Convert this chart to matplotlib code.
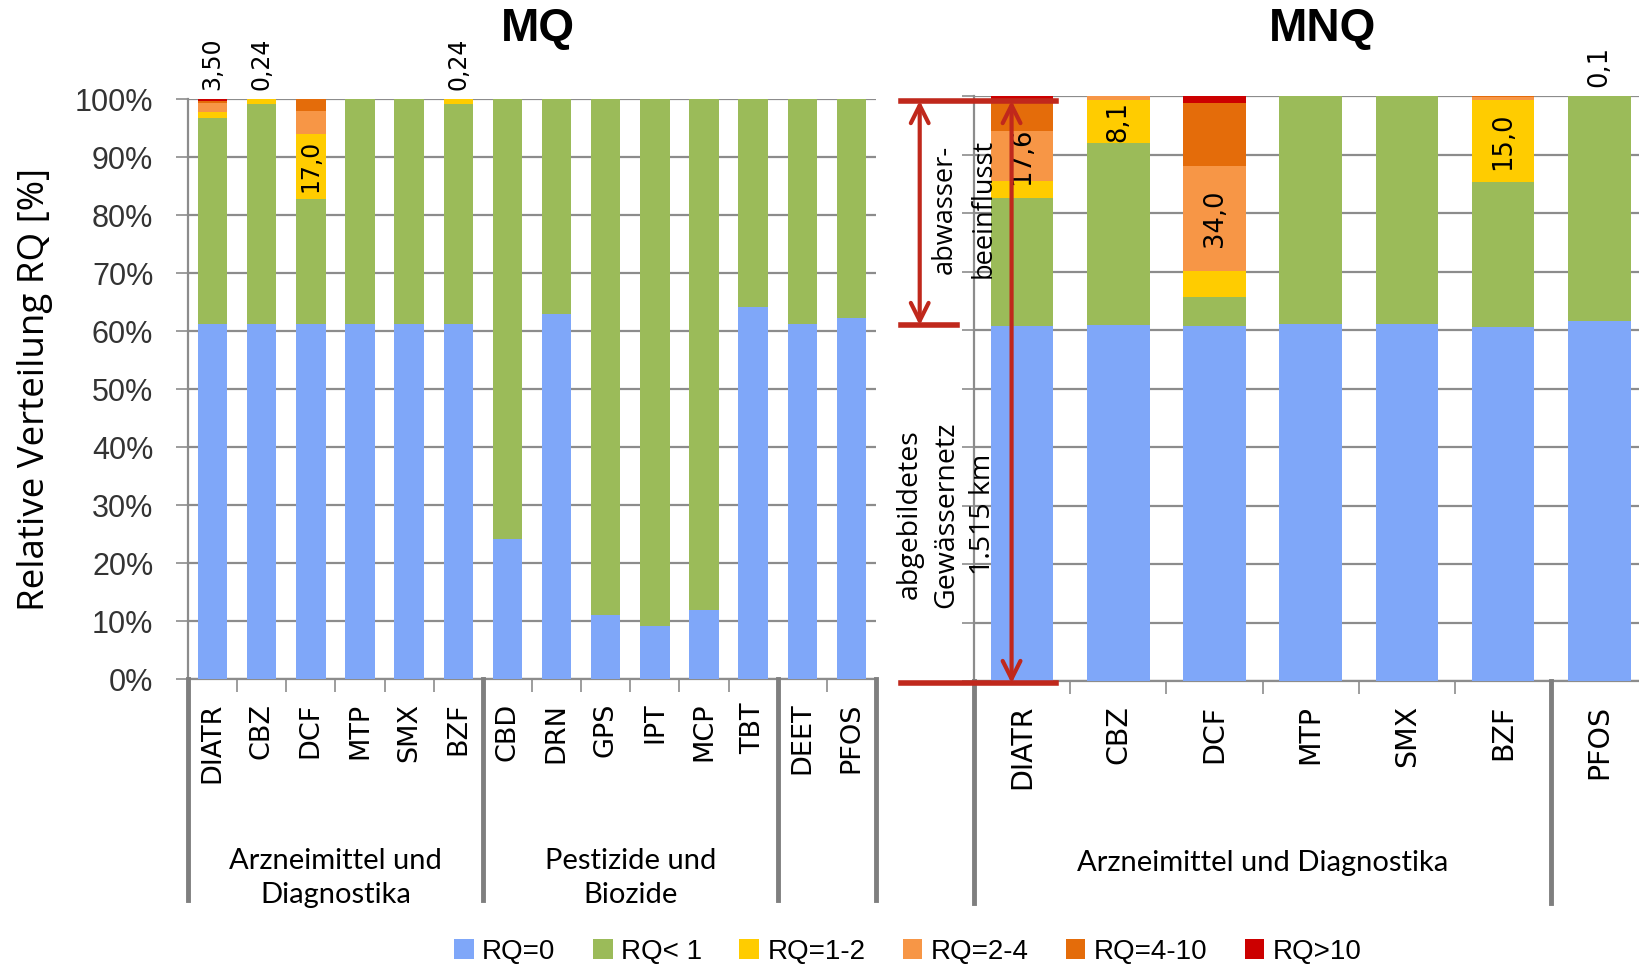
import matplotlib
matplotlib.use('Agg')
import numpy as np
import matplotlib.pyplot as plt
from matplotlib import font_manager
from matplotlib.patches import Patch
from matplotlib.transforms import blended_transform_factory

# ---- data ----
mq_labels = ['DIATR', 'CBZ', 'DCF', 'MTP', 'SMX', 'BZF', 'CBD', 'DRN', 'GPS',
             'IPT', 'MCP', 'TBT', 'DEET', 'PFOS']
mq_rq0 = [61.3, 61.3, 61.3, 61.3, 61.3, 61.3, 24.1, 63.0, 11.0, 9.2, 11.9, 64.2, 61.3, 62.3]
mq_lt1 = [35.4, 37.8, 21.5, 38.7, 38.7, 37.8, 75.9, 37.0, 89.0, 90.8, 88.1, 35.8, 38.7, 37.7]
mq_1_2 = [1.0, 0.9, 11.2, 0, 0, 0.9, 0, 0, 0, 0, 0, 0, 0, 0]
mq_2_4 = [1.6, 0, 4.0, 0, 0, 0, 0, 0, 0, 0, 0, 0, 0, 0]
mq_4_10 = [0.4, 0, 2.0, 0, 0, 0, 0, 0, 0, 0, 0, 0, 0, 0]
mq_gt10 = [0.3, 0, 0, 0, 0, 0, 0, 0, 0, 0, 0, 0, 0, 0]
mq_groups = ['Arzneimittel und\nDiagnostika', 'Pestizide und\nBiozide']
mq_group_pos = [2.5, 8.5]
mq_group_sep = [-0.5, 5.5, 11.5, 13.5]
mq_top_idx = [0, 1, 5]
mq_top_txt = ['3,50', '0,24', '0,24']
mq_in_idx = [2]
mq_in_seg = [2]
mq_in_txt = ['17,0']

mnq_labels = ['DIATR', 'CBZ', 'DCF', 'MTP', 'SMX', 'BZF', 'PFOS']
mnq_rq0 = [60.7, 60.9, 60.7, 61.0, 61.0, 60.5, 61.6]
mnq_lt1 = [21.9, 31.0, 5.0, 39.0, 39.0, 24.8, 38.4]
mnq_1_2 = [2.9, 7.5, 4.4, 0, 0, 14.1, 0]
mnq_2_4 = [8.5, 0.6, 18.0, 0, 0, 0.4, 0]
mnq_4_10 = [5.4, 0, 10.7, 0, 0, 0.2, 0]
mnq_gt10 = [0.6, 0, 1.2, 0, 0, 0, 0]
mnq_groups = ['Arzneimittel und Diagnostika']
mnq_group_pos = [2.5]
mnq_group_sep = [-0.5, 5.5]
mnq_top_idx = [6]
mnq_top_txt = ['0,1']
mnq_in_idx = [0, 1, 2, 5]
mnq_in_seg = [3, 2, 3, 2]
mnq_in_txt = ['17,6', '8,1', '34,0', '15,0']

legend_labels = ['RQ=0', 'RQ< 1', 'RQ=1-2', 'RQ=2-4', 'RQ=4-10', 'RQ>10']
colors = ['#7FA7F9', '#9BBB59', '#FFCC00', '#F79646', '#E46C0A', '#CC0000']
RED = '#C0281C'
GRID = '#8C8C8C'

installed = {f.name for f in font_manager.fontManager.ttflist}
narrow = 'Liberation Sans Narrow' if 'Liberation Sans Narrow' in installed else 'Liberation Sans'
calibri = 'Lato'


def draw_panel(ax, labels, series, top_idx, top_txt, in_idx, in_seg, in_txt,
               groups, group_pos, group_sep, width, sep_depth, group_y,
               lab_size, val_size):
    x = np.arange(len(labels))
    bottom = np.zeros(len(labels))
    for vals, c in zip(series, colors):
        ax.bar(x, vals, bottom=bottom, width=width, color=c, zorder=3, linewidth=0)
        bottom = bottom + np.array(vals)
    ax.set_ylim(0, 100)
    ax.set_yticks(np.arange(0, 101, 10))
    ax.grid(axis='y', color=GRID, lw=1.6, zorder=1)
    for s in ['top', 'right']:
        ax.spines[s].set_visible(False)
    for s in ['left', 'bottom']:
        ax.spines[s].set_color(GRID)
        ax.spines[s].set_linewidth(1.6)
    ax.tick_params(axis='y', length=9, width=1.2, color=GRID, pad=16)
    ax.set_xticks(x)
    ax.set_xticklabels(labels, rotation=90, fontsize=lab_size, family='DejaVu Sans')
    ax.tick_params(axis='x', which='major', length=0, pad=17)
    ax.set_xticks(np.arange(-0.5, len(labels), 1), minor=True)
    ax.tick_params(axis='x', which='minor', length=9, width=1.2, color=GRID)
    # value labels above bars
    for i, t in zip(top_idx, top_txt):
        ax.text(x[i], 101.5, t, rotation=90, ha='center', va='bottom',
                fontsize=val_size, family='DejaVu Sans', clip_on=False)
    # value labels inside segments
    cum = np.cumsum(np.array(series), axis=0)
    for i, s, t in zip(in_idx, in_seg, in_txt):
        lo = cum[s - 1][i] if s > 0 else 0
        mid = (lo + cum[s][i]) / 2
        ax.text(x[i], mid, t, rotation=90, ha='center', va='center',
                fontsize=val_size, family='DejaVu Sans', zorder=5)
    # group separators and labels below the axis
    tr = blended_transform_factory(ax.transData, ax.transAxes)
    for sx in group_sep:
        ax.plot([sx, sx], [0, sep_depth], transform=tr, color='#7F7F7F', lw=3.5,
                clip_on=False, zorder=4)
    for g, gx in zip(groups, group_pos):
        ax.text(gx, group_y, g, transform=tr, ha='center', va='center',
                fontsize=21, family=calibri, linespacing=1.4)


fig = plt.figure(figsize=(16.39, 9.66), dpi=100)
ax1 = fig.add_axes([0.1147, 0.297, 0.4198, 0.6005])
ax2 = fig.add_axes([0.5943, 0.295, 0.4057, 0.6056])

draw_panel(ax1, mq_labels, [mq_rq0, mq_lt1, mq_1_2, mq_2_4, mq_4_10, mq_gt10],
           mq_top_idx, mq_top_txt, mq_in_idx, mq_in_seg, mq_in_txt,
           mq_groups, mq_group_pos, mq_group_sep, 0.6, -0.38, -0.343, 19.5, 17)
ax1.set_xlim(-0.5, len(mq_labels) - 0.5)
ax1.set_yticklabels([f'{v}%' for v in range(0, 101, 10)], fontsize=22, family=narrow,
                    color='#333333')
ax1.set_ylabel('Relative Verteilung RQ [%]', fontsize=26.5, family='Open Sans', labelpad=16)

draw_panel(ax2, mnq_labels, [mnq_rq0, mnq_lt1, mnq_1_2, mnq_2_4, mnq_4_10, mnq_gt10],
           mnq_top_idx, mnq_top_txt, mnq_in_idx, mnq_in_seg, mnq_in_txt,
           mnq_groups, mnq_group_pos, mnq_group_sep, 0.65, -0.38, -0.311, 20.5, 18.5)
ax2.set_xlim(-0.5, 6.413)
ax2.set_yticklabels([])

# annotations on the MNQ panel
ax2.plot([-1.26, 0.35], [99.2, 99.2], color=RED, lw=4, clip_on=False, zorder=6)
ax2.plot([-1.26, -0.68], [60.8, 60.8], color=RED, lw=4, clip_on=False, zorder=6)
ax2.plot([-1.26, 0.35], [-0.4, -0.4], color=RED, lw=4, clip_on=False, zorder=6)
arrow = dict(arrowstyle='<->', color=RED, lw=3, mutation_scale=32, shrinkA=0, shrinkB=0)
ax2.annotate('', xy=(-1.065, 99.2), xytext=(-1.065, 60.8), arrowprops=arrow,
             annotation_clip=False, zorder=6)
ax2.annotate('', xy=(-0.11, 99.2), xytext=(-0.11, -0.4), arrowprops=arrow,
             annotation_clip=False, zorder=6)
ax2.text(-0.6, 80.7, 'abwasser-\nbeeinflusst', rotation=90, ha='center', va='center',
         fontsize=19.5, family='Open Sans', linespacing=1.5, clip_on=False, zorder=7)
ax2.text(-0.79, 28.5, 'abgebildetes\nGewässernetz\n1.515 km', rotation=90,
         ha='center', va='center', fontsize=20.5, family='Open Sans', linespacing=1.4,
         clip_on=False, zorder=7)

fig.text(0.328, 0.970, 'MQ', ha='center', va='center', fontsize=33,
         fontweight='bold', family='Liberation Sans')
fig.text(0.807, 0.970, 'MNQ', ha='center', va='center', fontsize=33,
         fontweight='bold', family='Liberation Sans')

handles = [Patch(facecolor=c, edgecolor='none') for c in colors]
fig.legend(handles, legend_labels, loc='center', bbox_to_anchor=(0.554, 0.015), ncol=6,
           frameon=False, prop={'family': narrow, 'size': 20}, handlelength=0.7,
           handleheight=0.7, handletextpad=0.3, columnspacing=1.35)

fig.savefig('out.png', dpi=100)
